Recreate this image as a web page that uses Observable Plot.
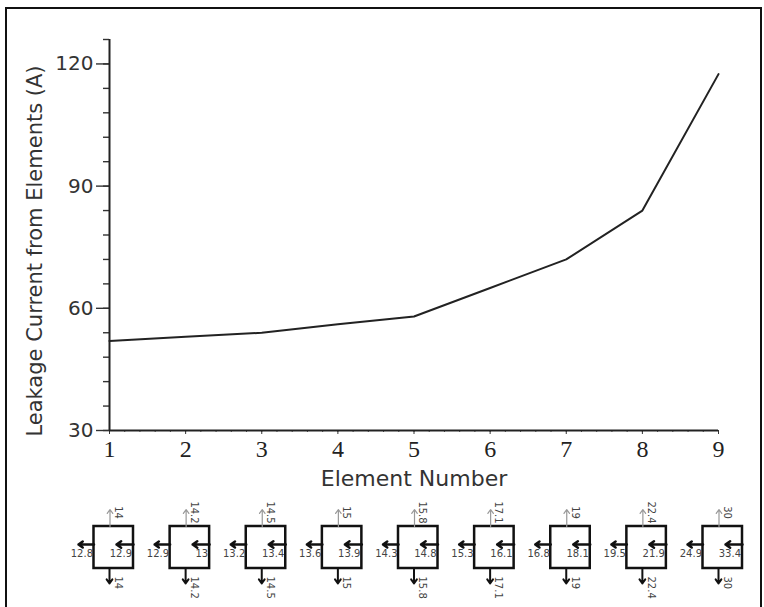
<!DOCTYPE html>
<html><head><meta charset="utf-8">
<script src="https://cdn.jsdelivr.net/npm/d3@7"></script>
<script src="https://cdn.jsdelivr.net/npm/@observablehq/plot@0.6"></script>
<style>
body{margin:0;background:#fff;}
#wrap{position:relative;width:764px;height:607px;overflow:hidden;background:#fff;}
#border{position:absolute;left:5px;top:7px;width:757px;height:660px;border:2px solid #111;box-sizing:border-box;}
#chart{position:absolute;left:0;top:0;}
#diag{position:absolute;left:0;top:480px;}
</style></head><body>
<div id="wrap"><div id="border"></div><div id="chart"></div><div id="diag"></div></div>
<script>
// ---- data ----
const elements = [1, 2, 3, 4, 5, 6, 7, 8, 9];
const leakage = [52, 53, 54, 56.1, 58, 65, 72, 84, 117.5];
const xTicks = [1, 2, 3, 4, 5, 6, 7, 8, 9];
const yTicks = [30, 60, 90, 120];
const topFlow = [14, 14.2, 14.5, 15, 15.8, 17.1, 19, 22.4, 30];
const bottomFlow = [14, 14.2, 14.5, 15, 15.8, 17.1, 19, 22.4, 30];
const leftFlow = [12.8, 12.9, 13.2, 13.6, 14.3, 15.3, 16.8, 19.5, 24.9];
const innerFlow = [12.9, 13, 13.4, 13.9, 14.8, 16.1, 18.1, 21.9, 33.4];

const series = elements.map((e, i) => ({element: e, current: leakage[i]}));
const boxes = elements.map((e, i) => ({
  element: e, top: topFlow[i], bottom: bottomFlow[i], left: leftFlow[i], inner: innerFlow[i]
}));

const sans = "DejaVu Sans";
const ink = "#222";

const chart = Plot.plot({
  width: 764, height: 480,
  marginLeft: 109, marginRight: 46, marginTop: 39, marginBottom: 50,
  style: {fontFamily: sans, background: "transparent", color: ink, overflow: "visible"},
  x: {domain: [1, 9]},
  y: {domain: [30, 126]},
  marks: [
    Plot.axisY(d3.range(30, 126.1, 6), {tickSize: 6, text: null, strokeWidth: 1.4, stroke: "#333", label: null}),
    Plot.axisY(yTicks, {tickSize: 13, tickPadding: 3, fontSize: 20, fill: "#333", strokeWidth: 1.4, stroke: "#333", label: null}),
    Plot.axisX(d3.range(1, 9.001, 0.2), {tickSize: 2, text: null, stroke: "#555", strokeWidth: 1, label: null}),
    Plot.axisX(xTicks, {tickSize: 4, tickPadding: 5, fontFamily: "Liberation Serif", fontSize: 24, fill: "#222", stroke: "#333", label: null}),
    Plot.ruleX([1], {stroke: ink, strokeWidth: 2}),
    Plot.ruleY([30], {stroke: ink, strokeWidth: 2}),
    Plot.lineY(series, {x: "element", y: "current", stroke: ink, strokeWidth: 2}),
    Plot.text(["Element Number"], {frameAnchor: "bottom", dy: 48, fontSize: 22, fill: "#333", lineAnchor: "middle"}),
    Plot.text(["Leakage Current from Elements (A)"], {frameAnchor: "left", dx: -74, dy: 16, rotate: -90, fontSize: 21, fill: "#333", textAnchor: "middle", lineAnchor: "middle"})
  ]
});
document.getElementById("chart").append(chart);

// ---- flow diagrams below each element, placed with the chart's x scale ----
const xs = chart.scale("x");
const X = d => xs.apply(d.element);
const lab = {fontFamily: sans, fontSize: 10, fill: "#444"};

const diag = Plot.plot({
  width: 764, height: 127,
  margin: 0,
  style: {background: "transparent", overflow: "visible"},
  x: {type: "identity"},
  y: {type: "identity"},
  marks: [
    Plot.rect(boxes, {x1: d => X(d) - 15.5, x2: d => X(d) + 24, y1: () => 46, y2: () => 88, fill: "none", stroke: "#111", strokeWidth: 2.5}),
    Plot.arrow(boxes, {x1: d => X(d) + 0.5, x2: d => X(d) + 0.5, y1: () => 46, y2: () => 29, stroke: "#999", strokeWidth: 1.2, headLength: 6, headAngle: 70}),
    Plot.arrow(boxes, {x1: d => X(d), x2: d => X(d), y1: () => 88, y2: () => 103, stroke: "#111", strokeWidth: 2, headLength: 6, headAngle: 70}),
    Plot.arrow(boxes, {x1: d => X(d) - 15.5, x2: d => X(d) - 31, y1: () => 64, y2: () => 64, stroke: "#111", strokeWidth: 2.5, headLength: 6, headAngle: 70}),
    Plot.arrow(boxes, {x1: d => X(d) + 24, x2: d => X(d) + 7, y1: () => 64, y2: () => 64, stroke: "#111", strokeWidth: 2.5, headLength: 6, headAngle: 70}),
    Plot.text(boxes, {x: d => X(d) - 16.5, y: () => 73, text: d => String(d.left), textAnchor: "end", ...lab}),
    Plot.text(boxes, {x: d => X(d) + 22.5, y: () => 73, text: d => String(d.inner), textAnchor: "end", ...lab}),
    Plot.text(boxes, {x: d => X(d) + 8.5, y: () => 32, text: d => String(d.top), rotate: 90, textAnchor: "middle", ...lab}),
    Plot.text(boxes, {x: d => X(d) + 8.5, y: () => 96, text: d => String(d.bottom), rotate: 90, textAnchor: "start", ...lab})
  ]
});
document.getElementById("diag").append(diag);
</script>
</body></html>
